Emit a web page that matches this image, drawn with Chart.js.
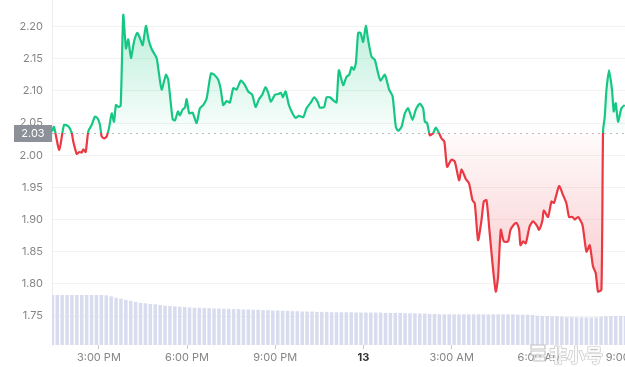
<!DOCTYPE html>
<html>
<head>
<meta charset="utf-8">
<script src="https://cdn.jsdelivr.net/npm/chart.js@4.4.1/dist/chart.umd.min.js"></script>
<style>
  html, body { margin: 0; padding: 0; background: #fff; overflow: hidden; }
  #wrap { width: 700px; height: 367px; }
</style>
</head>
<body>
<div id="wrap"><canvas id="priceChart" width="700" height="367"></canvas></div>
<script>
// price points: time in hours from midnight of the 12th, price in USD
const priceTimes = [
  13.405, 13.473, 13.653, 13.813, 13.959, 14.075, 14.129, 14.245, 14.333, 14.415,
  14.469, 14.551, 14.639, 14.755, 14.867, 14.959, 15.037, 15.095, 15.183, 15.265,
  15.353, 15.435, 15.513, 15.581, 15.659, 15.741, 15.829, 15.921, 15.999, 16.091,
  16.193, 16.305, 16.397, 16.489, 16.601, 16.693, 16.795, 16.965, 17.019, 17.135,
  17.281, 17.360, 17.509, 17.587, 17.689, 17.757, 17.849, 17.927, 17.985, 18.074,
  18.189, 18.325, 18.437, 18.550, 18.665, 18.811, 18.924, 19.060, 19.151, 19.229,
  19.345, 19.457, 19.570, 19.685, 19.831, 19.967, 20.080, 20.216, 20.331, 20.444,
  20.556, 20.671, 20.760, 20.852, 20.988, 21.100, 21.192, 21.260, 21.351, 21.464,
  21.576, 21.691, 21.804, 21.950, 22.065, 22.212, 22.324, 22.440, 22.518, 22.664,
  22.745, 22.858, 23.004, 23.086, 23.164, 23.310, 23.425, 23.514, 23.596, 23.673,
  23.742, 23.820, 23.902, 23.990, 24.082, 24.160, 24.276, 24.388, 24.500, 24.582,
  24.728, 24.874, 24.990, 25.102, 25.180, 25.295, 25.408, 25.520, 25.670, 25.782,
  25.918, 26.030, 26.088, 26.166, 26.258, 26.370, 26.462, 26.574, 26.656, 26.753,
  26.846, 26.996, 27.108, 27.254, 27.336, 27.482, 27.594, 27.710, 27.788, 27.900,
  28.016, 28.094, 28.186, 28.275, 28.390, 28.502, 28.580, 28.672, 28.774, 28.920,
  29.002, 29.114, 29.206, 29.294, 29.342, 29.430, 29.522, 29.658, 29.770, 29.906,
  29.974, 30.090, 30.134, 30.281, 30.396, 30.485, 30.655, 30.791, 30.906, 30.994,
  31.110, 31.188, 31.300, 31.450, 31.586, 31.698, 31.810, 31.902, 31.980, 32.096,
  32.151, 32.209, 32.266, 32.355, 32.457, 32.515, 32.583, 32.661, 32.777, 32.889
];
const prices = [
  2.037, 2.044, 2.008, 2.047, 2.045, 2.035, 2.021, 2.002, 2.005, 2.004,
  2.009, 2.005, 2.037, 2.047, 2.060, 2.057, 2.047, 2.029, 2.026, 2.029,
  2.044, 2.065, 2.052, 2.078, 2.075, 2.077, 2.218, 2.166, 2.180, 2.151,
  2.176, 2.190, 2.182, 2.171, 2.201, 2.179, 2.165, 2.151, 2.135, 2.102,
  2.125, 2.117, 2.056, 2.054, 2.068, 2.062, 2.071, 2.074, 2.087, 2.065,
  2.066, 2.050, 2.073, 2.078, 2.088, 2.127, 2.125, 2.117, 2.101, 2.078,
  2.084, 2.082, 2.104, 2.102, 2.116, 2.109, 2.099, 2.094, 2.075, 2.087,
  2.094, 2.106, 2.097, 2.083, 2.094, 2.095, 2.097, 2.090, 2.099, 2.078,
  2.066, 2.058, 2.061, 2.059, 2.073, 2.082, 2.090, 2.083, 2.074, 2.075,
  2.090, 2.090, 2.084, 2.082, 2.132, 2.109, 2.122, 2.125, 2.137, 2.133,
  2.143, 2.190, 2.190, 2.176, 2.201, 2.179, 2.153, 2.148, 2.127, 2.116,
  2.125, 2.102, 2.092, 2.044, 2.038, 2.044, 2.065, 2.073, 2.055, 2.071,
  2.080, 2.073, 2.052, 2.050, 2.031, 2.034, 2.043, 2.034, 2.026, 2.021,
  1.982, 1.993, 1.990, 1.961, 1.978, 1.963, 1.956, 1.930, 1.925, 1.868,
  1.899, 1.928, 1.930, 1.889, 1.832, 1.788, 1.811, 1.884, 1.866, 1.866,
  1.884, 1.892, 1.895, 1.885, 1.860, 1.866, 1.863, 1.890, 1.897, 1.890,
  1.884, 1.899, 1.914, 1.904, 1.928, 1.926, 1.952, 1.938, 1.925, 1.904,
  1.904, 1.900, 1.904, 1.892, 1.850, 1.860, 1.827, 1.817, 1.788, 1.791,
  2.037, 2.060, 2.101, 2.132, 2.101, 2.068, 2.081, 2.052, 2.073, 2.078
];

// volume bars, one every 10 minutes from 1:25 PM (millions)
const volumeStart = 13.417;
const volumeStep = 1 / 6;
const volumes = [
  145, 145, 145, 145, 145, 145, 145, 145, 145, 145, 145,
  144, 141, 137, 134, 131, 128, 125, 122, 121, 119, 118, 116, 114, 113, 112, 111, 110, 109,
  108, 108, 107, 107,
  106, 106, 105, 105, 104, 104, 103, 103,
  102, 102, 101, 101, 100, 100, 99, 99,
  98, 98, 97, 97, 97, 96, 96, 96,
  95, 95, 95, 95, 95, 94, 94, 94,
  94, 94, 94, 93, 93, 93, 93, 92,
  92, 92, 91, 91, 90, 90, 89, 89,
  89, 89, 89, 89, 89, 89, 89, 89, 89, 89,
  89, 89, 89, 89, 88, 88, 88, 87,
  85, 84, 84, 83, 83, 82,
  81, 81, 80, 80, 80, 80, 80,
  82, 83, 84, 84, 84, 84
];

const yTicks = [1.75, 1.80, 1.85, 1.90, 1.95, 2.00, 2.05, 2.10, 2.15, 2.20];
const xTicks = [15, 18, 21, 24, 27, 30, 33];
const xTickLabels = ['3:00 PM', '6:00 PM', '9:00 PM', '13', '3:00 AM', '6:00 AM', '9:00 AM'];
const baseline = 2.034;
const baselineLabel = '2.03';

const green = '#16c784';
const red = '#ea3943';

Chart.defaults.font.family = 'Inter, "Noto Sans", sans-serif';

function lineColor(context) {
    const { ctx, chartArea, scales } = context.chart;
    if (!chartArea) return green;
    const f = (scales.y.getPixelForValue(baseline) - chartArea.top) / (chartArea.bottom - chartArea.top);
    const g = ctx.createLinearGradient(0, chartArea.top, 0, chartArea.bottom);
    g.addColorStop(0, green);
    g.addColorStop(f, green);
    g.addColorStop(f, red);
    g.addColorStop(1, red);
    return g;
}

function fillColor(context) {
    const { ctx, chartArea, scales } = context.chart;
    if (!chartArea) return 'rgba(22,199,132,0.1)';
    const yTop = scales.y.getPixelForValue(2.22);
    const yBot = scales.y.getPixelForValue(1.78);
    const f = (scales.y.getPixelForValue(baseline) - yTop) / (yBot - yTop);
    const g = ctx.createLinearGradient(0, yTop, 0, yBot);
    g.addColorStop(0, 'rgba(22,199,132,0.30)');
    g.addColorStop(f, 'rgba(22,199,132,0.02)');
    g.addColorStop(f, 'rgba(234,57,67,0.02)');
    g.addColorStop(1, 'rgba(234,57,67,0.28)');
    return g;
}

const baselinePlugin = {
    id: 'baseline',
    beforeDatasetsDraw(chart) {
        const { ctx, chartArea, scales } = chart;
        const y = Math.round(scales.y.getPixelForValue(baseline)) + 0.5;
        ctx.save();
        ctx.strokeStyle = '#bdbdbd';
        ctx.lineWidth = 1;
        ctx.setLineDash([2, 4]);
        ctx.beginPath();
        ctx.moveTo(chartArea.left, y);
        ctx.lineTo(chartArea.right, y);
        ctx.stroke();
        ctx.restore();
    },
    afterDraw(chart) {
        const { ctx, chartArea, scales } = chart;
        const y = scales.y.getPixelForValue(baseline);
        ctx.save();
        // price tag on the axis
        ctx.fillStyle = '#8c9099';
        ctx.fillRect(14, Math.round(y) - 8, chartArea.left - 14, 17);
        ctx.fillStyle = '#ffffff';
        ctx.font = '11px Inter, "Noto Sans", sans-serif';
        ctx.textAlign = 'center';
        ctx.textBaseline = 'middle';
        ctx.fillText(baselineLabel, (14 + chartArea.left) / 2, Math.round(y) + 0.5);

        // watermark
        ctx.globalAlpha = 0.85;
        ctx.strokeStyle = '#b8b8b8';
        ctx.fillStyle = '#ffffff';
        ctx.lineWidth = 1.2;
        ctx.beginPath();
        ctx.rect(531, 345, 14, 4);
        ctx.rect(531, 351, 14, 4);
        ctx.rect(534, 357, 11, 4);
        ctx.fill();
        ctx.stroke();
        ctx.font = '600 18px "Noto Sans CJK SC", sans-serif';
        ctx.textAlign = 'left';
        ctx.textBaseline = 'alphabetic';
        ctx.strokeText('非小号', 549, 362);
        ctx.fillText('非小号', 549, 362);
        ctx.restore();
    }
};

const ctx = document.getElementById('priceChart').getContext('2d');
new Chart(ctx, {
    data: {
        datasets: [{
            type: 'line',
            label: 'Price',
            data: priceTimes.map((t, i) => ({ x: t, y: prices[i] })),
            borderColor: lineColor,
            backgroundColor: fillColor,
            borderWidth: 2.2,
            pointRadius: 0,
            tension: 0.2,
            fill: { value: baseline },
            order: 0
        }, {
            type: 'bar',
            label: 'Volume',
            data: volumes.map((v, i) => ({ x: volumeStart + i * volumeStep, y: v })),
            yAxisID: 'yv',
            backgroundColor: '#d8dcee',
            categoryPercentage: 1,
            barPercentage: 0.72,
            order: 1
        }]
    },
    options: {
        responsive: false,
        animation: false,
        devicePixelRatio: 1,
        layout: { padding: { left: 0, right: 72, top: 0, bottom: 0 } },
        plugins: { legend: { display: false }, tooltip: { enabled: false } },
        scales: {
            x: {
                type: 'linear',
                offset: false,
                min: 13.405,
                max: 33,
                afterBuildTicks: (scale) => { scale.ticks = xTicks.map(v => ({ value: v })); },
                afterFit: (scale) => { scale.height = 22; scale.paddingLeft = 0; },
                grid: { drawOnChartArea: false, drawTicks: true, tickLength: 4, color: '#c8c8c8', offset: false },
                border: { display: false },
                ticks: {
                    autoSkip: false,
                    maxRotation: 0,
                    padding: 2,
                    color: (c) => c.tick && c.tick.value === 24 ? '#333333' : '#858585',
                    font: (c) => c.tick && c.tick.value === 24 ? { size: 11, weight: 'bold' } : { size: 11 },
                    callback: (value) => xTickLabels[xTicks.indexOf(value)]
                }
            },
            y: {
                type: 'linear',
                position: 'left',
                min: 1.705,
                max: 2.2412,
                afterBuildTicks: (scale) => { scale.ticks = yTicks.map(v => ({ value: v })); },
                afterFit: (scale) => {
                    scale.width = 52;
                    scale.paddingTop = 0;
                    scale.paddingBottom = 0;
                },
                grid: { color: '#f2f2f2', drawTicks: false },
                border: { display: true, color: '#ececec' },
                ticks: {
                    padding: 9,
                    color: '#858585',
                    font: { size: 11 },
                    callback: (value) => value.toFixed(2)
                }
            },
            yv: {
                type: 'linear',
                display: false,
                min: 0,
                max: 1000
            }
        }
    },
    plugins: [baselinePlugin]
});
</script>
</body>
</html>
